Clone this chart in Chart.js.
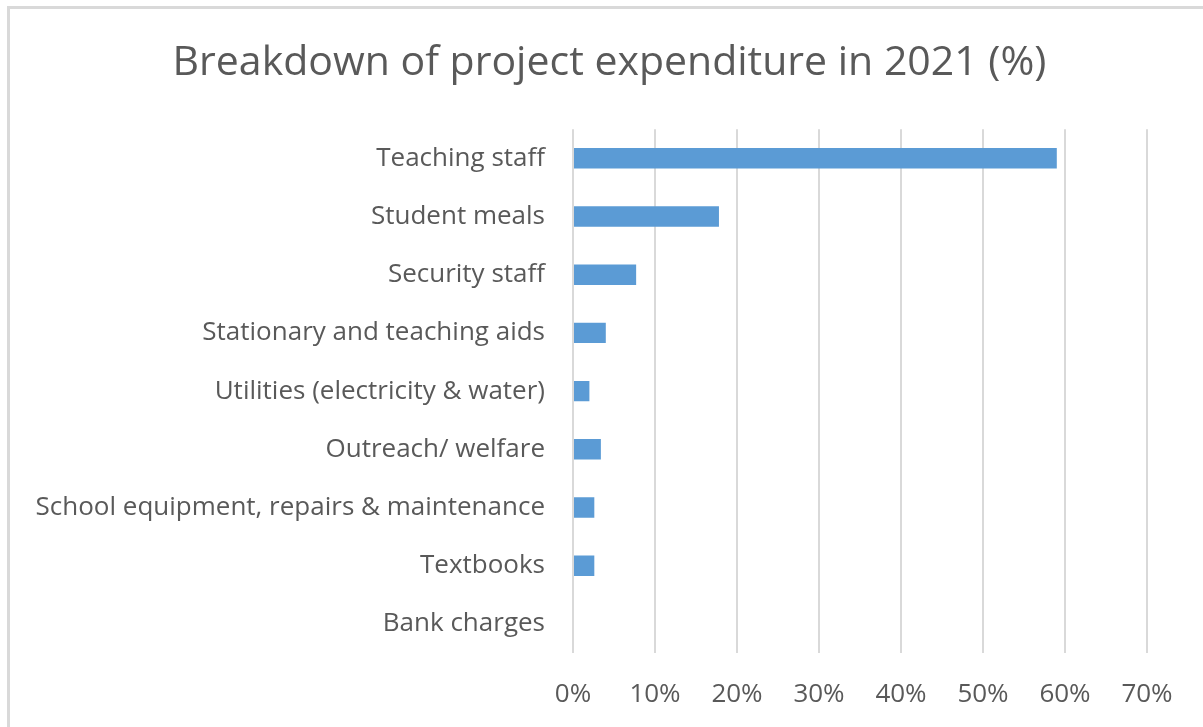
<!DOCTYPE html>
<html>
<head>
<meta charset="utf-8">
<script src="https://cdn.jsdelivr.net/npm/chart.js@4"></script>
<style>
  body { margin: 0; background: #fff; overflow: hidden; }
  #frame { position: absolute; left: 7px; top: 6px; width: 1300px; height: 800px; border: 3px solid #d9d9d9; }
  #wrap { position: absolute; left: 0; top: 0; width: 1203px; height: 727px; }
</style>
</head>
<body>
<div id="frame"></div>
<div id="wrap"><canvas id="expChart"></canvas></div>
<script>
// categories top to bottom
const categories = [
  'Teaching staff',
  'Student meals',
  'Security staff',
  'Stationary and teaching aids',
  'Utilities (electricity & water)',
  'Outreach/ welfare',
  'School equipment, repairs & maintenance',
  'Textbooks',
  'Bank charges'
];
// share of expenditure, percent
const shares = [59, 17.8, 7.7, 4.0, 2.0, 3.4, 2.6, 2.6, 0];
const xTicks = [0, 10, 20, 30, 40, 50, 60, 70];

const textColor = '#595959';
const fontFam = '"Open Sans", "Liberation Sans", sans-serif';

const ctx = document.getElementById('expChart').getContext('2d');
const expChart = new Chart(ctx, {
  type: 'bar',
  data: {
    labels: categories,
    datasets: [{
      label: 'Expenditure',
      data: shares,
      backgroundColor: '#5b9bd5',
      borderWidth: 0,
      barPercentage: 0.35,
      categoryPercentage: 1
    }]
  },
  options: {
    indexAxis: 'y',
    responsive: true,
    maintainAspectRatio: false,
    animation: false,
    layout: { padding: { left: 16, right: 0, top: 0, bottom: 0 } },
    plugins: {
      legend: { display: false },
      tooltip: { enabled: false },
      title: {
        display: true,
        text: 'Breakdown of project expenditure in 2021 (%)',
        color: textColor,
        font: { family: fontFam, size: 41, weight: 'normal' },
        padding: { top: 39, bottom: 41 }
      }
    },
    scales: {
      x: {
        min: xTicks[0],
        max: xTicks[xTicks.length - 1],
        afterBuildTicks: function (scale) {
          scale.ticks = xTicks.map(v => ({ value: v }));
        },
        afterFit: function (scale) { scale.height = 74; },
        grid: { color: '#d9d9d9', lineWidth: 2, drawTicks: false },
        border: { display: false },
        ticks: {
          padding: 26,
          color: textColor,
          font: { family: fontFam, size: 26 },
          callback: function (v) { return v + '%'; }
        }
      },
      y: {
        afterFit: function (scale) { scale.width = 557; },
        grid: { display: false, drawTicks: false },
        border: { display: false },
        ticks: {
          padding: 28,
          color: textColor,
          font: { family: fontFam, size: 26 }
        }
      },
      // empty right margin so the plot ends at the 70% line
      yRight: {
        position: 'right',
        afterFit: function (scale) { scale.width = 56; },
        grid: { display: false, drawTicks: false },
        border: { display: false },
        ticks: { display: false }
      }
    }
  }
});
</script>
</body>
</html>
